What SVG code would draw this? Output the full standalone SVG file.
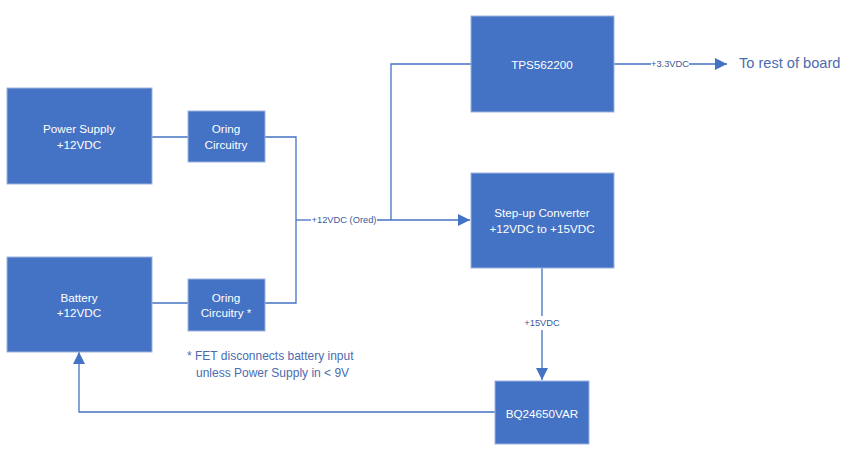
<svg xmlns="http://www.w3.org/2000/svg" width="861" height="459" viewBox="0 0 861 459">
<style>
.box{fill:#4472C4;stroke:#9DB3DE;stroke-width:1}
.t{font-family:"Liberation Sans",Arial,sans-serif;font-size:11.7px;fill:#fff;text-anchor:middle;dominant-baseline:central}
.ln{fill:none;stroke:#4472C4;stroke-width:1.3}
.lbl{font-family:"Liberation Sans",Arial,sans-serif;font-size:9.3px;fill:#3a5a9a;text-anchor:middle;dominant-baseline:central}
.note{font-family:"Liberation Sans",Arial,sans-serif;font-size:12px;fill:#4A6CB0;dominant-baseline:central}
</style>
<defs>
<marker id="ah2" viewBox="0 0 10 10" refX="10" refY="5" markerWidth="14" markerHeight="12" markerUnits="userSpaceOnUse" orient="auto">
<path d="M0,0L10,5L0,10z" fill="#4472C4"/>
</marker>
</defs>
<rect width="861" height="459" fill="#fff"/>
<g id="connectors">
<path class="ln" d="M152,137H188"/>
<path class="ln" d="M152,303H188"/>
<path class="ln" d="M265,137H296V303H265"/>
<path class="ln" d="M296,220H311"/>
<path class="ln" d="M377,220H470" marker-end="url(#ah2)"/>
<path class="ln" d="M391,220V64H471"/>
<path class="ln" d="M614,64H651"/>
<path class="ln" d="M689,64H727" marker-end="url(#ah2)"/>
<path class="ln" d="M542,268V316"/>
<path class="ln" d="M542,330V380" marker-end="url(#ah2)"/>
<path class="ln" d="M495,412H79V352" marker-end="url(#ah2)"/>
<text class="lbl" x="344" y="220">+12VDC (Ored)</text>
<text class="lbl" x="670" y="64">+3.3VDC</text>
<text class="lbl" x="542" y="323">+15VDC</text>
</g>
<g id="power-supply">
<rect class="box" x="7" y="88" width="145" height="96"/>
<text class="t" x="79" y="128">Power Supply</text>
<text class="t" x="79" y="144">+12VDC</text>
</g>
<g id="oring1">
<rect class="box" x="188" y="111" width="77" height="51"/>
<text class="t" x="226" y="128">Oring</text>
<text class="t" x="226" y="144">Circuitry</text>
</g>
<g id="battery">
<rect class="box" x="7" y="257" width="145" height="95"/>
<text class="t" x="79" y="297">Battery</text>
<text class="t" x="79" y="312">+12VDC</text>
</g>
<g id="oring2">
<rect class="box" x="188" y="279" width="77" height="52"/>
<text class="t" x="226" y="297">Oring</text>
<text class="t" x="226" y="312">Circuitry *</text>
</g>
<g id="tps">
<rect class="box" x="471" y="16" width="143" height="96"/>
<text class="t" x="542" y="64">TPS562200</text>
</g>
<g id="stepup">
<rect class="box" x="471" y="173" width="143" height="95"/>
<text class="t" x="542" y="212">Step-up Converter</text>
<text class="t" x="542" y="228">+12VDC to +15VDC</text>
</g>
<g id="bq">
<rect class="box" x="495" y="381" width="94" height="63"/>
<text class="t" x="542" y="413">BQ24650VAR</text>
</g>
<g id="dest">
<text class="note" x="739" y="63" style="font-size:14.6px">To rest of board</text>
</g>
<g id="note">
<text class="note" x="187" y="356">* FET disconnects battery input</text>
<text class="note" x="196" y="373">unless Power Supply in &lt; 9V</text>
</g>
</svg>
